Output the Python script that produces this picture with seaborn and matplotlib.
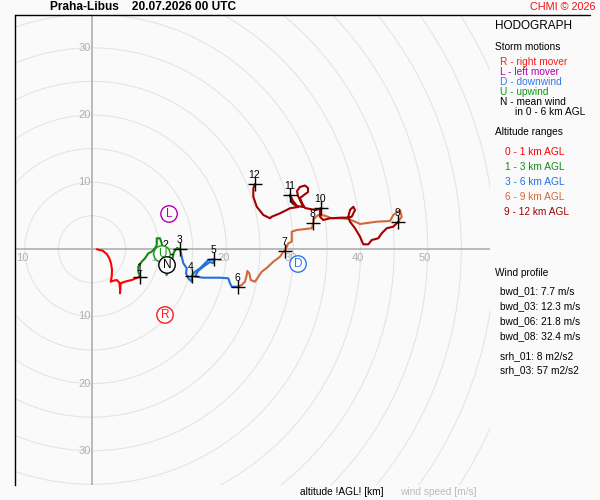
import numpy as np
import pandas as pd
import matplotlib
matplotlib.use("Agg")
import matplotlib.pyplot as plt
from matplotlib.patches import Circle
from matplotlib.lines import Line2D
import seaborn as sns

# ---------------- data (u, v in m/s) ----------------
seg_names = ["0 - 1 km AGL", "1 - 3 km AGL", "3 - 6 km AGL", "6 - 9 km AGL", "9 - 12 km AGL"]

u_0_1 = [0.70, 1.59, 2.19, 2.58, 2.83, 2.98, 2.93, 2.78, 3.17, 3.68, 4.07, 4.17, 4.17, 4.27, 4.91, 5.91, 7.15]
v_0_1 = [0.00, -0.21, -0.70, -1.34, -2.08, -3.08, -4.08, -4.82, -4.68, -4.57, -4.97, -5.81, -6.55, -5.06, -4.82, -4.57, -4.08]

u_1_3 = [7.15, 6.89, 6.89, 7.40, 7.89, 8.38, 8.89, 9.38, 9.64, 9.64, 10.13, 10.38, 10.57, 11.02, 11.32, 11.09, 11.62, 11.91, 12.21, 12.66, 13.10]
v_1_3 = [-4.08, -3.34, -2.59, -1.85, -1.34, -0.60, -0.36, 0.15, 0.64, 1.64, 1.64, 0.89, -0.10, -0.70, -1.89, -3.83, -2.78, -1.59, -0.40, 0.19, 0.04]

u_3_6 = [13.10, 13.36, 13.60, 14.10, 14.00, 14.34, 14.85, 14.85, 15.34, 16.08, 16.83, 17.32, 18.21, 18.06, 17.57, 16.57, 15.79, 15.34, 16.57, 19.06, 20.30, 20.55, 20.80, 21.70]
v_3_6 = [0.04, -1.10, -2.08, -2.83, -3.57, -4.32, -4.82, -3.93, -3.34, -2.83, -2.08, -1.59, -1.49, -2.08, -1.89, -2.59, -3.23, -4.08, -4.23, -4.23, -4.32, -5.06, -5.57, -5.57]

u_6_9 = [21.70, 22.29, 22.78, 23.04, 23.13, 23.43, 23.63, 24.27, 25.27, 26.02, 27.00, 28.00, 28.49, 28.74, 29.23, 29.74, 29.74, 30.48, 32.72, 32.96, 33.00, 33.70, 34.70, 35.70, 36.93, 38.17, 39.17, 39.91, 42.40, 44.38, 44.87, 45.87, 46.12, 45.61]
v_6_9 = [-5.57, -5.32, -4.82, -3.83, -3.23, -3.57, -4.57, -4.82, -3.34, -2.78, -1.85, -1.10, -0.36, -0.21, 0.89, 1.13, 2.62, 2.87, 3.13, 3.87, 4.50, 5.11, 5.00, 4.62, 4.62, 4.51, 4.11, 3.77, 4.11, 4.21, 5.11, 5.85, 4.85, 4.11]

u_9_12 = [45.61, 44.87, 43.89, 43.14, 42.64, 41.65, 41.15, 40.40, 39.91, 39.17, 38.42, 38.17, 38.42, 38.91, 39.17, 38.67, 38.17, 37.18, 35.44, 34.44, 33.95, 33.95, 34.06,
          33.36, 32.46, 31.72, 31.27, 30.97, 31.57, 32.17, 32.17, 31.72, 30.97, 30.53, 30.68, 31.12, 31.42, 30.53, 29.93, 29.49,
          29.78, 30.68, 29.49, 28.00, 26.76, 26.51, 25.51, 24.53, 24.02, 24.02, 24.27]
v_9_12 = [4.11, 3.37, 3.13, 2.38, 1.64, 1.38, 0.74, 0.74, 1.88, 3.13, 4.11, 4.85, 5.85, 6.34, 5.85, 4.85, 4.71, 4.71, 4.62, 4.36, 4.85, 5.85, 6.11,
          5.85, 6.00, 6.15, 6.89, 7.64, 8.09, 8.53, 9.12, 9.50, 9.28, 8.68, 7.94, 7.04, 6.30, 6.45, 7.19, 8.09,
          6.89, 6.30, 6.11, 5.36, 4.85, 4.62, 5.11, 6.34, 7.83, 9.08, 9.72]

seg_colors = ["#ff0000", "#138a13", "#2070e0", "#d2693a", "#a00000"]

km_labels = ["1", "2", "3", "4", "5", "6", "7", "8", "9", "10", "11", "12"]
km_u = [7.15, 11.02, 13.10, 14.85, 18.21, 21.70, 28.74, 32.96, 45.61, 34.06, 29.49, 24.27]
km_v = [-4.08, -0.70, 0.04, -3.93, -1.49, -5.57, -0.21, 3.87, 4.11, 6.11, 8.09, 9.72]

storm_letters = ["R", "L", "D", "U", "N"]
storm_u = [10.87, 11.47, 30.68, 10.42, 11.17]
storm_v = [-9.78, 5.26, -2.19, -0.70, -2.34]
storm_colors = ["#ff1a1a", "#b000b0", "#2f78f0", "#119911", "#000000"]

ring_radii = list(range(5, 105, 5))
x_tick_vals = [-10, 10, 20, 30, 40, 50]
y_tick_vals = [-30, -20, -10, 10, 20, 30]

wind_profile = ["bwd_01: 7.7 m/s", "bwd_03: 12.3 m/s", "bwd_06: 21.8 m/s", "bwd_08: 32.4 m/s"]
srh_lines = ["srh_01: 8 m2/s2", "srh_03: 57 m2/s2"]

# ---------------- figure ----------------
sns.set_theme(style="white")
plt.rcParams["font.family"] = ["Liberation Sans", "DejaVu Sans"]

W, H = 600, 500
fig = plt.figure(figsize=(6, 5), dpi=100, facecolor="#fafafa")
ax = fig.add_axes([15 / W, 1 - 485 / H, 475 / W, 470 / H])
ax.set_facecolor("#fafafa")
ax.set_xlim(-11.47, 59.27)
ax.set_ylim(-35.1, 34.89)
ax.set_xticks([]); ax.set_yticks([])
for s in ["top", "right", "bottom"]:
    ax.spines[s].set_visible(False)
ax.spines["left"].set_color("black")
ax.spines["left"].set_linewidth(1.0)
fig.add_artist(Line2D([15 / W, 590 / W], [1 - 15 / H, 1 - 15 / H], color="black", lw=1.0,
                      transform=fig.transFigure))

for r in ring_radii:
    ax.add_patch(Circle((0, 0), r, fill=False, ec="#e3e3e3", lw=0.75, zorder=1))
ax.axhline(0, color="#a8a8a8", lw=1.1, zorder=2)
ax.axvline(0, color="#a8a8a8", lw=1.1, zorder=2)

for t in x_tick_vals:
    ax.annotate(str(abs(t)), (t, 0), xytext=(-2, -2.5), textcoords="offset points",
                ha="center", va="top", fontsize=8, color="#b0b0b0", zorder=2)
for t in y_tick_vals:
    ax.annotate(str(abs(t)), (0, t), xytext=(-1, 0), textcoords="offset points",
                ha="right", va="center", fontsize=8, color="#b0b0b0", zorder=2)

segs = [(u_0_1, v_0_1), (u_1_3, v_1_3), (u_3_6, v_3_6), (u_6_9, v_6_9), (u_9_12, v_9_12)]
for (uu, vv), c in zip(segs, seg_colors):
    sns.lineplot(x=uu, y=vv, sort=False, estimator=None, color=c, lw=1.5, ax=ax, zorder=3)

sns.scatterplot(x=km_u, y=km_v, marker="+", s=110, color="black", linewidth=1.0, ax=ax, zorder=5)
for lab, uu, vv in zip(km_labels, km_u, km_v):
    ax.annotate(lab, (uu, vv), xytext=(-0.5, 6.5), textcoords="offset points",
                ha="center", va="center", fontsize=7.5, color="black", zorder=6)

sns.scatterplot(x=storm_u, y=storm_v, s=140, color="white", edgecolor=storm_colors,
                linewidth=1.0, ax=ax, zorder=7)
for lab, uu, vv, c in zip(storm_letters, storm_u, storm_v, storm_colors):
    ax.text(uu, vv, lab, ha="center", va="center", fontsize=8.5, color=c, zorder=8)

# ---------------- text ----------------
def ft(x, y, s, **kw):
    fig.text(x / W, 1 - y / H, s, **kw)

ft(50, 7.5, "Praha-Libus    20.07.2026 00 UTC", ha="left", va="center", fontsize=8.6,
   fontweight="bold", color="black")
ft(595, 7, "CHMI © 2026", ha="right", va="center", fontsize=7.8, color="#ee1111")

ft(495, 26, "HODOGRAPH", ha="left", va="center", fontsize=8.5, color="black")
ft(495, 47, "Storm motions", ha="left", va="center", fontsize=7.3, color="black")
storm_desc = ["R - right mover", "L - left mover", "D - downwind", "U - upwind", "N - mean wind"]
for i, (sdesc, c) in enumerate(zip(storm_desc, storm_colors)):
    ft(500.5, 62 + 10 * i, sdesc, ha="left", va="center", fontsize=7.3, color=c)
ft(515, 112, "in 0 - 6 km AGL", ha="left", va="center", fontsize=7.3, color="black")

ft(495, 132, "Altitude ranges", ha="left", va="center", fontsize=7.3, color="black")
for i, (name, c) in enumerate(zip(seg_names, seg_colors)):
    xx = 505 if i < 4 else 504
    ft(xx, 152 + 15 * i, name, ha="left", va="center", fontsize=7.3, color=c)

ft(495, 272.5, "Wind profile", ha="left", va="center", fontsize=7.3, color="black")
for i, s in enumerate(wind_profile):
    ft(500.5, 291.5 + 15 * i, s, ha="left", va="center", fontsize=7.3, color="black")
for i, s in enumerate(srh_lines):
    ft(500.5, 356 + 14.5 * i, s, ha="left", va="center", fontsize=7.3, color="black")

ft(300, 492, "altitude !AGL! [km]", ha="left", va="center", fontsize=7.3, color="black")
ft(400, 492, "wind speed [m/s]", ha="left", va="center", fontsize=7.3, color="#bbbbbb")

fig.savefig("out.png", dpi=100, facecolor=fig.get_facecolor())
